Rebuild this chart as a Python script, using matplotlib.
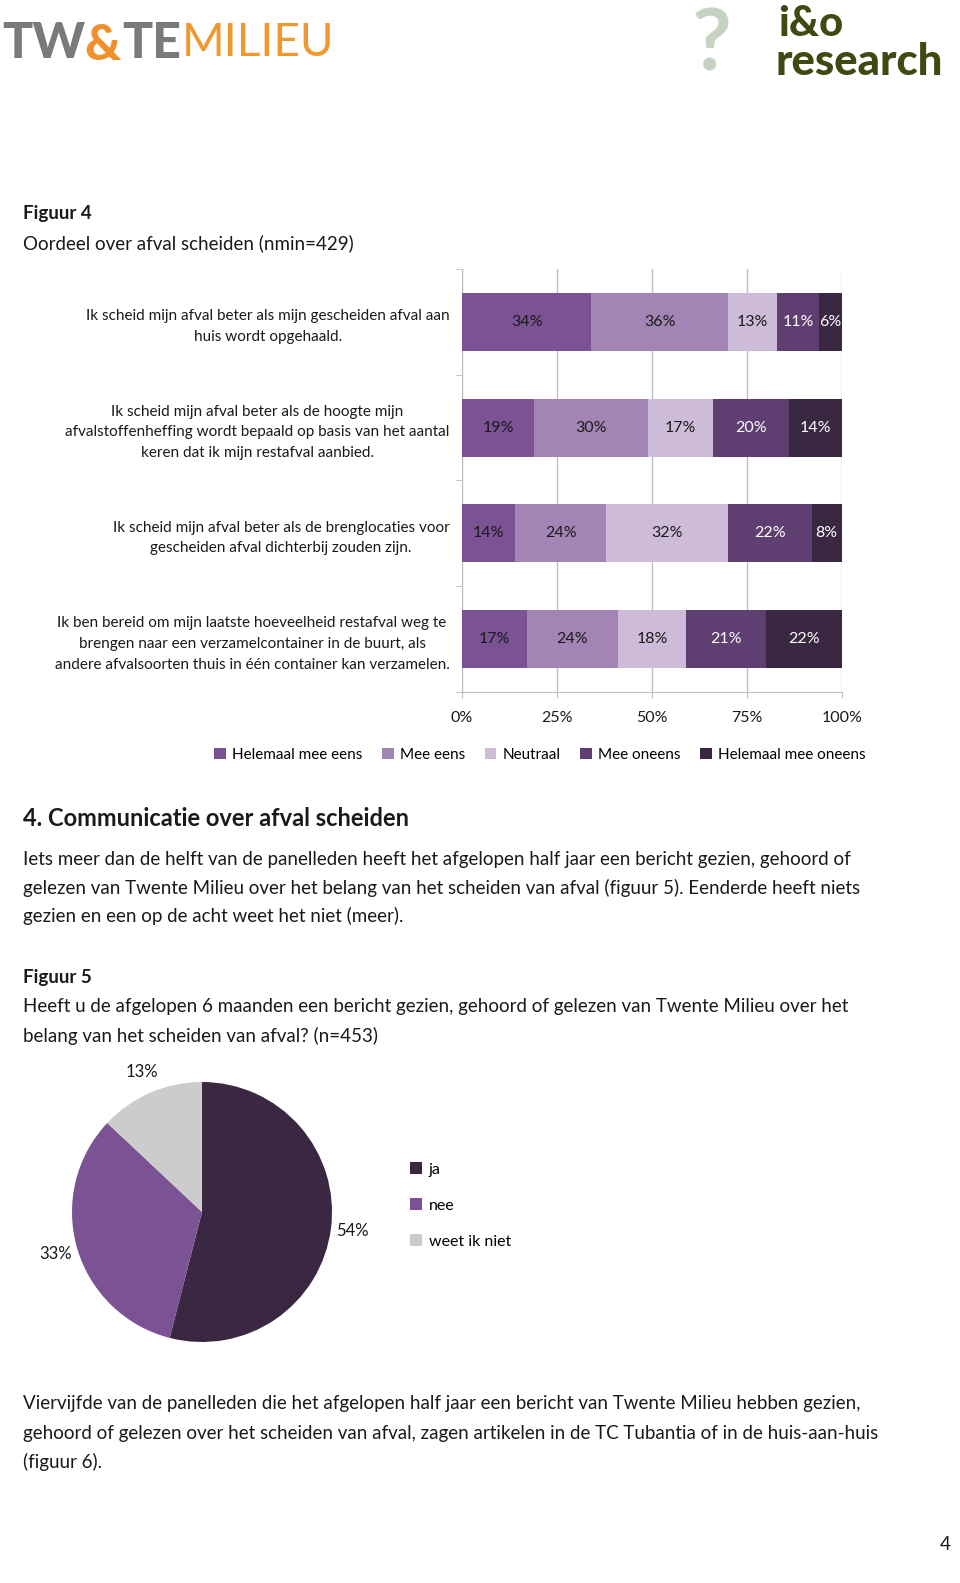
import matplotlib
matplotlib.use("Agg")
import matplotlib.pyplot as plt
from matplotlib.patches import Patch
import numpy as np

plt.rcParams['font.family'] = ['Lato', 'DejaVu Sans']

# ---- data ----
statements = [
    "Ik scheid mijn afval beter als mijn gescheiden afval aan\nhuis wordt opgehaald.",
    "Ik scheid mijn afval beter als de hoogte mijn\nafvalstoffenheffing wordt bepaald op basis van het aantal\nkeren dat ik mijn restafval aanbied.",
    "Ik scheid mijn afval beter als de brenglocaties voor\ngescheiden afval dichterbij zouden zijn.",
    "Ik ben bereid om mijn laatste hoeveelheid restafval weg te\nbrengen naar een verzamelcontainer in de buurt, als\nandere afvalsoorten thuis in één container kan verzamelen.",
]
answers = ['Helemaal mee eens', 'Mee eens', 'Neutraal', 'Mee oneens', 'Helemaal mee oneens']
helemaal_mee_eens = [34, 19, 14, 17]
mee_eens = [36, 30, 24, 24]
neutraal = [13, 17, 32, 18]
mee_oneens = [11, 20, 22, 21]
helemaal_mee_oneens = [6, 14, 8, 22]
bar_colors = ['#7B5294', '#A285B5', '#CDBBD8', '#5F3E72', '#3A2842']
label_colors = ['#1a1a1a', '#1a1a1a', '#1a1a1a', 'white', 'white']

pie_labels = ['ja', 'nee', 'weet ik niet']
pie_values = [54, 33, 13]
pie_colors = ['#3A2842', '#7B5294', '#CCCCCC']

para1 = ["Iets meer dan de helft van de panelleden heeft het afgelopen half jaar een bericht gezien, gehoord of",
         "gelezen van Twente Milieu over het belang van het scheiden van afval (figuur 5). Eenderde heeft niets",
         "gezien en een op de acht weet het niet (meer)."]
vraag5 = ["Heeft u de afgelopen 6 maanden een bericht gezien, gehoord of gelezen van Twente Milieu over het",
          "belang van het scheiden van afval? (n=453)"]
para2 = ["Viervijfde van de panelleden die het afgelopen half jaar een bericht van Twente Milieu hebben gezien,",
         "gehoord of gelezen over het scheiden van afval, zagen artikelen in de TC Tubantia of in de huis-aan-huis",
         "(figuur 6)."]

W, H = 960, 1583
fig = plt.figure(figsize=(W / 100, H / 100), dpi=100)


def fx(x):
    return x / W


def fy(y):
    return 1 - y / H


def line(x, y, s, color='#1a1a1a', **kw):
    fig.text(fx(x), fy(y), s, va='center', ha='left', color=color, **kw)


# ---- logos ----
line(2, 43, "TW", fontsize=36, fontweight='black', color='#7A7A7C')
line(84, 45, "&", fontsize=36, fontweight='black', color='#F0902A')
line(122, 43, "TE", fontsize=36, fontweight='black', color='#7A7A7C')
line(182, 43, "MILIEU", fontsize=33, color='#EE982F')
line(692, 46, "?", fontsize=62, fontweight='bold', color='#C6D3C2')
line(778, 24, "i&o", fontsize=30, fontweight='black', color='#3E4A12')
line(776, 62, "research", fontsize=31.5, fontweight='black', color='#3E4A12')

# ---- texts ----
line(23, 214, "Figuur 4", fontsize=13.5, fontweight='bold')
line(23, 243, "Oordeel over afval scheiden (nmin=429)", fontsize=13.5)
line(23, 818, "4. Communicatie over afval scheiden", fontsize=17, fontweight='bold')
for i, s in enumerate(para1):
    line(23, 859 + i * 28.5, s, fontsize=13.5)
line(23, 978, "Figuur 5", fontsize=13.5, fontweight='bold')
for i, s in enumerate(vraag5):
    line(23, 1007 + i * 29, s, fontsize=13.5)
for i, s in enumerate(para2):
    line(23, 1404 + i * 29, s, fontsize=13.5)
line(940, 1545, "4", fontsize=13.5)

# ---- figuur 4: stacked bars ----
ax = fig.add_axes([fx(462), fy(692), fx(842) - fx(462), (692 - 269) / H])
series = [helemaal_mee_eens, mee_eens, neutraal, mee_oneens, helemaal_mee_oneens]
ypos = np.arange(len(statements))
left = np.zeros(len(statements))
for name, vals, col, tcol in zip(answers, series, bar_colors, label_colors):
    v = np.array(vals) / 100
    bars = ax.barh(ypos, v, left=left, height=0.55, color=col, label=name, zorder=3)
    ax.bar_label(bars, labels=[f"{x}%" for x in vals], label_type='center',
                 color=tcol, fontsize=11.5)
    left += v
ax.set_xlim(0, 1)
ax.set_ylim(3.5, -0.5)
ax.set_xticks([0, 0.25, 0.5, 0.75, 1.0])
ax.set_xticklabels(['0%', '25%', '50%', '75%', '100%'], fontsize=11.5, color='#1a1a1a')
ax.xaxis.grid(True, color='#BFBFBF', linewidth=1, zorder=0)
ax.set_yticks(ypos)
ax.set_yticklabels(statements, fontsize=11, multialignment='center',
                   linespacing=1.6, color='#1a1a1a')
ax.set_yticks(np.arange(-0.5, 3.6, 1), minor=True)
ax.tick_params(axis='y', which='major', length=0, pad=9)
ax.tick_params(axis='y', which='minor', length=5, color='#BFBFBF')
ax.tick_params(axis='x', length=4, color='#BFBFBF', pad=10)
for sp in ['top', 'right']:
    ax.spines[sp].set_visible(False)
for sp in ['left', 'bottom']:
    ax.spines[sp].set_color('#BFBFBF')

handles = [Patch(facecolor=c, label=a) for a, c in zip(answers, bar_colors)]
fig.legend(handles=handles, loc='center', bbox_to_anchor=(fx(540), fy(755)), ncol=5,
           frameon=False, fontsize=11, handlelength=0.75, handleheight=0.75,
           handletextpad=0.4, columnspacing=1.3)

# ---- figuur 5: pie ----
r = 130
cx, cy = 202, 1212
ax2 = fig.add_axes([fx(cx - r), fy(cy + r), 2 * r / W, 2 * r / H])
wedges, texts, autotexts = ax2.pie(pie_values, colors=pie_colors, startangle=90,
                                   counterclock=False, radius=1,
                                   autopct=lambda p: f"{p:.0f}%", pctdistance=1.17,
                                   textprops={'fontsize': 12, 'color': '#1a1a1a'})
ax2.set_xlim(-1, 1)
ax2.set_ylim(-1, 1)
ax2.set_aspect('equal')
fig.legend(wedges, pie_labels, loc='upper left', bbox_to_anchor=(fx(396), fy(1148)),
           frameon=False, fontsize=11.5, handlelength=0.75, handleheight=0.75,
           handletextpad=0.4, labelspacing=1.35)

fig.savefig("out.png", dpi=100)
